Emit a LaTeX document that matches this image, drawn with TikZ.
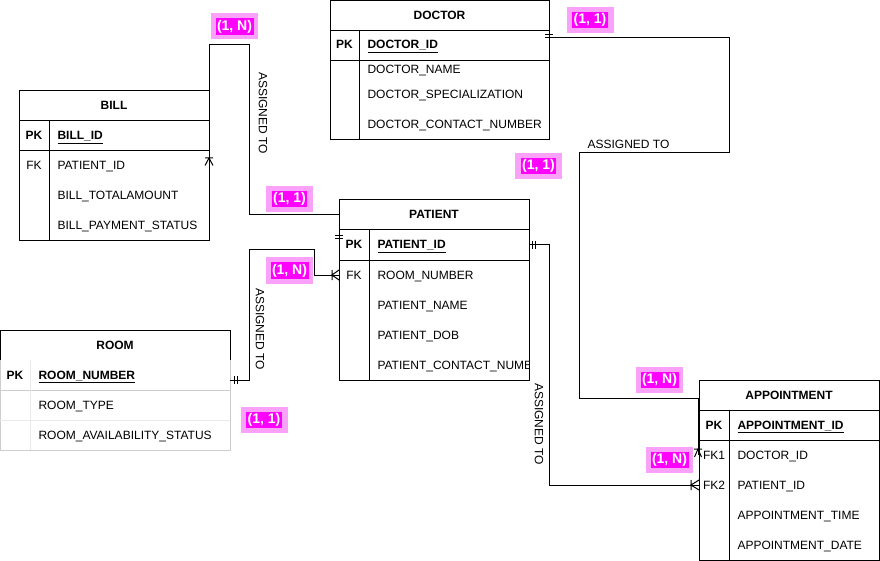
\documentclass[tikz,border=0pt]{standalone}
\usepackage{fontspec}
\setmainfont{Liberation Sans}
\usetikzlibrary{calc}
\definecolor{pinkout}{RGB}{250,162,250}
\definecolor{pinkin}{RGB}{255,0,255}
\definecolor{lgray}{RGB}{205,205,205}
\newcommand\tabfont{\fontsize{12}{14}\selectfont}
\newcommand\cardfont{\fontsize{14}{16}\selectfont}
\setlength{\fboxsep}{1.5pt}
\begin{document}
\begin{tikzpicture}[x=1pt,y=-1pt,line width=1pt,
  tbl/.style={draw,anchor=north west,inner sep=0pt,outer sep=0pt},
  txt/.style={inner sep=0pt,text height=8.6pt,text depth=0.6pt},
  hdr/.style={txt,font=\tabfont\bfseries},
  keyl/.style={txt,font=\tabfont\bfseries},
  fkl/.style={txt,font=\tabfont},
  fld/.style={txt,font=\tabfont,anchor=west},
  pkf/.style={txt,font=\tabfont\bfseries,anchor=west},
  card/.style={fill=pinkout,minimum width=47pt,minimum height=26pt,inner sep=0pt,font=\cardfont\bfseries,text=white},
  rel/.style={inner sep=0pt,font=\tabfont},
  conn/.style={draw,line width=1pt},
  erm/.style={draw,line width=1pt}
]
\useasboundingbox (0,0) rectangle (880,561);

% ---------------- tables (outer boxes) ----------------
\node[tbl,minimum width=190pt,minimum height=150pt] (bill) at (19,91) {};
\node[tbl,minimum width=190pt,minimum height=180pt] (patient) at (339,200) {};
\node[tbl,minimum width=219pt,minimum height=139pt] (doctor) at (330,1) {};
\node[tbl,draw=lgray,minimum width=230pt,minimum height=120pt] (room) at (0,330) {};
\node[tbl,minimum width=180pt,minimum height=180pt] (appt) at (699,380) {};

% ---------------- connectors ----------------
% BILL -- PATIENT
\draw[conn] ($(bill.north east)+(0,75)$) |- (249,45) |- ($(patient.north west)+(0,15)$) -- ($(patient.north west)+(0,45)$);
% ROOM -- PATIENT
\draw[conn] ($(room.north east)+(0,50)$) -| (249,250) -| (314,275) -- ($(patient.north west)+(0,75)$);
% DOCTOR -- APPOINTMENT
\draw[conn] ($(doctor.north east)+(0,37)$) -| (729,153) -| (579,398) -| ($(appt.north west)+(-1,75)$);
% PATIENT -- APPOINTMENT
\draw[conn] ($(patient.north east)+(0,45)$) -| (549,485) -- ($(appt.north west)+(0,105)$);

% markers
\draw[erm] (205,158) -- (213,158) (205,165.5) -- (209,158) -- (213,165.5);
\draw[erm] (335,236) -- (343,236) (335,239) -- (343,239);
\draw[erm] (234.5,376) -- (234.5,384) (237.5,376) -- (237.5,384);
\draw[erm] (332,270) -- (332,280) (339,270) -- (332,275) -- (339,280);
\draw[erm] (532.5,241) -- (532.5,249) (535.5,241) -- (535.5,249);
\draw[erm] (545,34.5) -- (553,34.5) (545,37.5) -- (553,37.5);
\draw[erm] (694,449) -- (702,449) (694.5,457) -- (698,449) -- (701.5,457);
\draw[erm] (691,480) -- (691,490) (699,480) -- (691,485) -- (699,490);

% ---------------- DOCTOR ----------------
\draw (330,31) -- (549,31) (330,61) -- (549,61) (359,31) -- (359,140);
\node[hdr] (dT) at (439.5,16) {DOCTOR};
\node[keyl] (dK) at (344.5,45) {PK};
\node[pkf] (dPK) at (367,45) {\underline{DOCTOR\_ID}};
\node[fld] (d1) at (367,70) {DOCTOR\_NAME};
\node[fld] (d2) at (367,95) {DOCTOR\_SPECIALIZATION};
\node[fld] (d3) at (367,125) {DOCTOR\_CONTACT\_NUMBER};

% ---------------- BILL ----------------
\draw (19,121) -- (209,121) (19,151) -- (209,151) (49,121) -- (49,241);
\node[hdr] (bT) at (114,106) {BILL};
\node[keyl] (bK) at (34,136) {PK};
\node[pkf] (bPK) at (57,136) {\underline{BILL\_ID}};
\node[fkl] (bF) at (34,166) {FK};
\node[fld] (b1) at (57,166) {PATIENT\_ID};
\node[fld] (b2) at (57,196) {BILL\_TOTALAMOUNT};
\node[fld] (b3) at (57,226) {BILL\_PAYMENT\_STATUS};

% ---------------- PATIENT ----------------
\draw (339,230) -- (529,230) (339,260) -- (529,260) (369,230) -- (369,380);
\node[hdr] (pT) at (434,215) {PATIENT};
\node[keyl] (pK) at (354,245) {PK};
\node[pkf] (pPK) at (377,245) {\underline{PATIENT\_ID}};
\node[fkl] (pF) at (354,275) {FK};
\node[fld] (p1) at (377,275) {ROOM\_NUMBER};
\node[fld] (p2) at (377,305) {PATIENT\_NAME};
\node[fld] (p3) at (377,335) {PATIENT\_DOB};
\begin{scope}
\clip (369,350) rectangle (529,380);
\node[fld] (p4) at (377,365) {PATIENT\_CONTACT\_NUMBER};
\end{scope}
\draw (529,350) -- (529,380);

% ---------------- ROOM ----------------
\draw[lgray] (0,390) -- (230,390);
\draw[lgray!45] (0,420) -- (230,420) (30,360) -- (30,450);
\draw (0,360) -- (0,330) -- (230,330) -- (230,360);
\node[hdr] (rT) at (115,345) {ROOM};
\node[keyl] (rK) at (15,375) {PK};
\node[pkf] (rPK) at (38,375) {\underline{ROOM\_NUMBER}};
\node[fld] (r1) at (38,405) {ROOM\_TYPE};
\node[fld] (r2) at (38,435) {ROOM\_AVAILABILITY\_STATUS};

% ---------------- APPOINTMENT ----------------
\draw (699,410) -- (879,410) (699,440) -- (879,440) (729,410) -- (729,560);
\node[hdr] (aT) at (789,395) {APPOINTMENT};
\node[keyl] (aK) at (714,425) {PK};
\node[pkf] (aPK) at (737,425) {\underline{APPOINTMENT\_ID}};
\node[fkl] (aF1) at (714,455) {FK1};
\node[fkl] (aF2) at (714,485) {FK2};
\node[fld] (a1) at (737,455) {DOCTOR\_ID};
\node[fld] (a2) at (737,485) {PATIENT\_ID};
\node[fld] (a3) at (737,515) {APPOINTMENT\_TIME};
\node[fld] (a4) at (737,545) {APPOINTMENT\_DATE};

% ---------------- relationship labels ----------------
\node[rel,rotate=-90] (rl1) at (263,113) {ASSIGNED TO};
\node[rel,rotate=-90] (rl2) at (260,329) {ASSIGNED TO};
\node[rel] (rl3) at (628.5,144) {ASSIGNED TO};
\node[rel,rotate=-90] (rl4) at (539,424) {ASSIGNED TO};

% ---------------- cardinalities ----------------
\node[card] (c1) at (234.5,26.5) {\colorbox{pinkin}{(1, N)}};
\node[card] (c2) at (590,20) {\colorbox{pinkin}{(1, 1)}};
\node[card] (c3) at (538.5,166) {\colorbox{pinkin}{(1, 1)}};
\node[card] (c4) at (289.5,199) {\colorbox{pinkin}{(1, 1)}};
\node[card] (c5) at (289.5,270.5) {\colorbox{pinkin}{(1, N)}};
\node[card] (c6) at (264,420) {\colorbox{pinkin}{(1, 1)}};
\node[card] (c7) at (659.5,380) {\colorbox{pinkin}{(1, N)}};
\node[card] (c8) at (669.5,460) {\colorbox{pinkin}{(1, N)}};
\end{tikzpicture}
\end{document}
